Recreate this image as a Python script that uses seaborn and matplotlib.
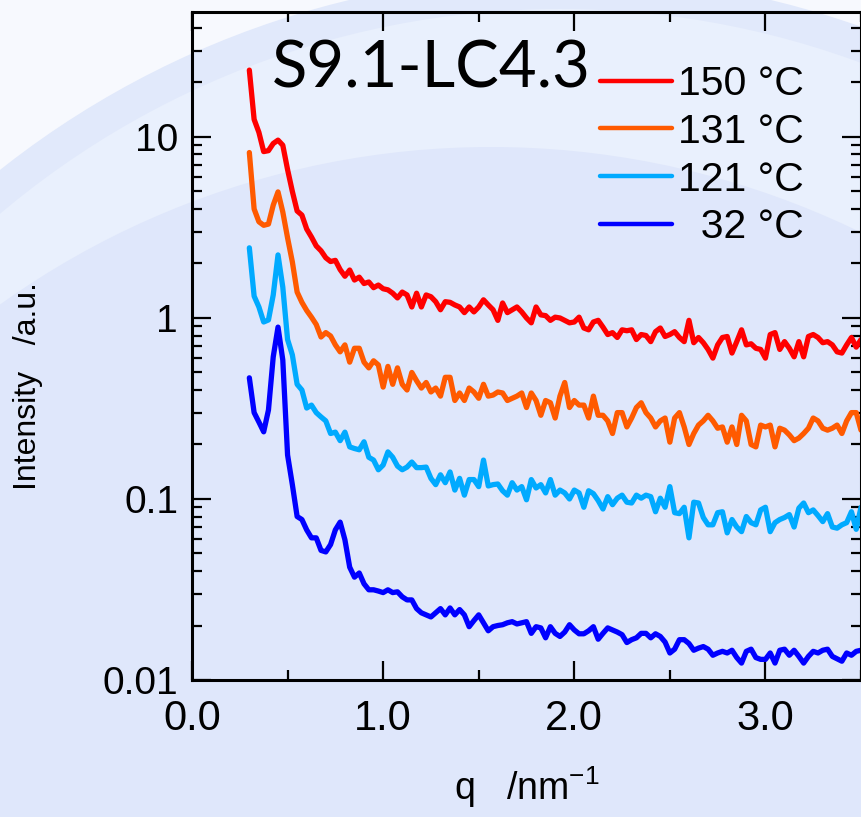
import numpy as np
import pandas as pd
import matplotlib
matplotlib.use("Agg")
import matplotlib.pyplot as plt
import seaborn as sns
from matplotlib.patches import Circle, Rectangle
from matplotlib.ticker import LogLocator, NullFormatter, FixedLocator, FixedFormatter
from matplotlib import font_manager as fm

# ---------------- data ----------------
q_nm = [
    0.300, 0.325, 0.350, 0.375, 0.400, 0.425, 0.450, 0.475, 0.500, 0.525,
    0.550, 0.575, 0.600, 0.625, 0.650, 0.675, 0.700, 0.725, 0.750, 0.775,
    0.800, 0.825, 0.850, 0.875, 0.900, 0.925, 0.950, 0.975, 1.000, 1.025,
    1.050, 1.075, 1.100, 1.125, 1.150, 1.175, 1.200, 1.225, 1.250, 1.275,
    1.300, 1.325, 1.350, 1.375, 1.400, 1.425, 1.450, 1.475, 1.500, 1.525,
    1.550, 1.575, 1.600, 1.625, 1.650, 1.675, 1.700, 1.725, 1.750, 1.775,
    1.800, 1.825, 1.850, 1.875, 1.900, 1.925, 1.950, 1.975, 2.000, 2.025,
    2.050, 2.075, 2.100, 2.125, 2.150, 2.175, 2.200, 2.225, 2.250, 2.275,
    2.300, 2.325, 2.350, 2.375, 2.400, 2.425, 2.450, 2.475, 2.500, 2.525,
    2.550, 2.575, 2.600, 2.625, 2.650, 2.675, 2.700, 2.725, 2.750, 2.775,
    2.800, 2.825, 2.850, 2.875, 2.900, 2.925, 2.950, 2.975, 3.000, 3.025,
    3.050, 3.075, 3.100, 3.125, 3.150, 3.175, 3.200, 3.225, 3.250, 3.275,
    3.300, 3.325, 3.350, 3.375, 3.400, 3.425, 3.450, 3.475, 3.500,
]

I_150C = [
    23.4, 12.5, 10.6, 8.3, 8.4, 9.2, 9.6, 9.0, 6.6, 5.0,
    3.9, 3.7, 3.1, 2.8, 2.5, 2.35, 2.15, 2.05, 2.08, 1.85,
    1.70, 1.84, 1.62, 1.68, 1.55, 1.58, 1.47, 1.52, 1.45, 1.43,
    1.37, 1.29, 1.39, 1.34, 1.15, 1.37, 1.15, 1.34, 1.31, 1.23,
    1.11, 1.23, 1.22, 1.18, 1.15, 1.07, 1.15, 1.08, 1.15, 1.26,
    1.18, 1.11, 0.97, 1.21, 1.07, 1.11, 1.15, 1.08, 1.00, 0.94,
    1.15, 1.04, 1.03, 0.97, 1.01, 1.00, 0.97, 0.94, 0.95, 1.01,
    0.88, 0.86, 0.95, 0.97, 0.89, 0.81, 0.83, 0.78, 0.86, 0.85,
    0.86, 0.76, 0.81, 0.80, 0.74, 0.84, 0.88, 0.79, 0.81, 0.84,
    0.78, 0.74, 0.97, 0.73, 0.78, 0.73, 0.67, 0.60, 0.71, 0.78,
    0.79, 0.64, 0.74, 0.86, 0.71, 0.72, 0.68, 0.67, 0.60, 0.81,
    0.83, 0.67, 0.74, 0.68, 0.61, 0.74, 0.61, 0.79, 0.81, 0.78,
    0.73, 0.74, 0.71, 0.65, 0.64, 0.71, 0.78, 0.69, 0.76,
]

I_131C = [
    8.2, 4.0, 3.4, 3.25, 3.3, 4.2, 4.97, 3.85, 2.77, 2.04,
    1.39, 1.22, 1.10, 1.01, 0.92, 0.785, 0.83, 0.795, 0.71, 0.65,
    0.71, 0.57, 0.68, 0.68, 0.57, 0.53, 0.58, 0.55, 0.415, 0.54,
    0.43, 0.53, 0.43, 0.40, 0.50, 0.45, 0.41, 0.44, 0.39, 0.41,
    0.37, 0.47, 0.47, 0.35, 0.385, 0.35, 0.41, 0.39, 0.36, 0.43,
    0.37, 0.375, 0.39, 0.385, 0.35, 0.36, 0.37, 0.385, 0.32, 0.385,
    0.35, 0.29, 0.35, 0.34, 0.28, 0.37, 0.44, 0.32, 0.35, 0.33,
    0.33, 0.28, 0.37, 0.29, 0.29, 0.27, 0.23, 0.30, 0.30, 0.25,
    0.28, 0.32, 0.34, 0.30, 0.28, 0.25, 0.27, 0.28, 0.206, 0.28,
    0.30, 0.25, 0.20, 0.23, 0.256, 0.27, 0.29, 0.27, 0.246, 0.25,
    0.206, 0.25, 0.20, 0.29, 0.27, 0.20, 0.194, 0.256, 0.25, 0.256,
    0.194, 0.246, 0.24, 0.226, 0.21, 0.217, 0.23, 0.246, 0.28, 0.27,
    0.246, 0.24, 0.246, 0.256, 0.23, 0.27, 0.30, 0.30, 0.24,
]

I_121C = [
    2.44, 1.32, 1.15, 0.95, 0.975, 1.34, 2.23, 1.48, 0.76, 0.625,
    0.43, 0.40, 0.318, 0.33, 0.30, 0.284, 0.27, 0.23, 0.234, 0.21,
    0.234, 0.194, 0.19, 0.187, 0.207, 0.17, 0.164, 0.145, 0.154, 0.182,
    0.17, 0.152, 0.145, 0.15, 0.16, 0.149, 0.149, 0.15, 0.13, 0.12,
    0.136, 0.123, 0.141, 0.112, 0.13, 0.105, 0.128, 0.128, 0.117, 0.164,
    0.118, 0.12, 0.121, 0.111, 0.105, 0.123, 0.112, 0.117, 0.099, 0.128,
    0.115, 0.12, 0.108, 0.128, 0.105, 0.112, 0.108, 0.100, 0.112, 0.108,
    0.090, 0.111, 0.107, 0.098, 0.088, 0.103, 0.093, 0.101, 0.105, 0.096,
    0.095, 0.105, 0.101, 0.105, 0.103, 0.085, 0.101, 0.090, 0.117, 0.084,
    0.083, 0.090, 0.061, 0.096, 0.095, 0.079, 0.072, 0.072, 0.084, 0.085,
    0.065, 0.077, 0.070, 0.066, 0.080, 0.074, 0.072, 0.087, 0.090, 0.066,
    0.074, 0.077, 0.079, 0.082, 0.070, 0.089, 0.095, 0.084, 0.087, 0.081,
    0.075, 0.083, 0.070, 0.069, 0.072, 0.074, 0.085, 0.068, 0.090,
]

I_32C = [
    0.467, 0.30, 0.266, 0.235, 0.31, 0.61, 0.89, 0.586, 0.175, 0.12,
    0.080, 0.077, 0.0675, 0.061, 0.061, 0.052, 0.051, 0.056, 0.0675, 0.0745,
    0.0595, 0.042, 0.037, 0.039, 0.034, 0.0315, 0.0315, 0.031, 0.0304, 0.0315,
    0.0304, 0.0307, 0.0288, 0.0277, 0.0277, 0.0248, 0.0235, 0.0229, 0.0223, 0.0235,
    0.0248, 0.0229, 0.0250, 0.0229, 0.0245, 0.0229, 0.0197, 0.0213, 0.0229, 0.0207,
    0.0187, 0.0197, 0.0200, 0.0202, 0.0207, 0.0210, 0.0204, 0.0207, 0.0210, 0.0181,
    0.0197, 0.0194, 0.0171, 0.0197, 0.0181, 0.0174, 0.0184, 0.0202, 0.0189, 0.0180,
    0.0180, 0.0187, 0.0197, 0.0168, 0.0181, 0.0194, 0.0189, 0.0184, 0.0178, 0.0161,
    0.0167, 0.0171, 0.0181, 0.0181, 0.0171, 0.0180, 0.0174, 0.0162, 0.0141, 0.0148,
    0.0167, 0.0167, 0.0159, 0.0146, 0.0150, 0.0153, 0.0148, 0.0137, 0.0141, 0.0144,
    0.0141, 0.0146, 0.0133, 0.0124, 0.0144, 0.0148, 0.0133, 0.0130, 0.0130, 0.0141,
    0.0124, 0.0146, 0.0148, 0.0137, 0.0146, 0.0135, 0.0124, 0.0135, 0.0144, 0.0141,
    0.0146, 0.0148, 0.0135, 0.0131, 0.0127, 0.0141, 0.0137, 0.0144, 0.0146,
]

series_labels = ["150 °C", "131 °C", "121 °C", "  32 °C"]
series_colors = ["#ff0000", "#ff5a00", "#00aaff", "#0000ff"]
x_ticks = [0.0, 1.0, 2.0, 3.0]
x_ticklabels = ["0.0", "1.0", "2.0", "3.0"]
y_ticks = [0.01, 0.1, 1, 10]
y_ticklabels = ["0.01", "0.1", "1", "10"]
sample_title = "S9.1-LC4.3"

df = pd.concat([
    pd.DataFrame({"q": q_nm, "I": vals, "T": lab})
    for vals, lab in zip([I_150C, I_131C, I_121C, I_32C], series_labels)
], ignore_index=True)

# ---------------- style ----------------
sns.set_theme(style="ticks")
plt.rcParams["font.family"] = ["Liberation Sans", "DejaVu Sans"]
plt.rcParams["mathtext.fontset"] = "custom"
plt.rcParams["mathtext.rm"] = "Liberation Sans"
for k in ["text.color", "axes.labelcolor", "xtick.color", "ytick.color"]:
    plt.rcParams[k] = "black"

# use a condensed face for the y label if one is installed
names = {f.name for f in fm.fontManager.ttflist}
condensed = [n for n in ["Liberation Sans Narrow", "DejaVu Sans Condensed"] if n in names]
if condensed:
    YLAB = dict(family=[condensed[0], "Liberation Sans"], fontsize=27)
else:
    YLAB = dict(family=["Liberation Sans"], fontsize=23)

W, H = 862, 817
fig = plt.figure(figsize=(W / 100, H / 100), dpi=100)

# background decoration (pixel coordinates, y down)
bg = fig.add_axes([0, 0, 1, 1], zorder=0)
bg.set_xlim(0, W)
bg.set_ylim(H, 0)
bg.axis("off")
bg.add_patch(Rectangle((0, 0), W, H, color="#f7f9fe", lw=0))
bg.add_patch(Circle((560, 877), 902, color="#e1e9fb", lw=0))
bg.add_patch(Circle((560, 877), 868, color="#e9f0fd", lw=0))
bg.add_patch(Circle((491, 991), 844, color="#dfe7fb", lw=0))

# main axes
L, R, T, B = 192, 861, 12, 680
ax = fig.add_axes([L / W, 1 - B / H, (R - L) / W, (B - T) / H], zorder=1)
ax.patch.set_alpha(0)

sns.lineplot(data=df, x="q", y="I", hue="T", hue_order=series_labels,
             palette=series_colors, estimator=None, sort=False,
             linewidth=3.8, ax=ax, legend=False)

ax.set_yscale("log")
ax.set_xlim(0, 3.5)
ax.set_ylim(0.01, 49)

ax.xaxis.set_major_locator(FixedLocator(x_ticks))
ax.xaxis.set_major_formatter(FixedFormatter(x_ticklabels))
ax.xaxis.set_minor_locator(FixedLocator([0.5, 1.5, 2.5, 3.5]))
ax.yaxis.set_major_locator(FixedLocator(y_ticks))
ax.yaxis.set_major_formatter(FixedFormatter(y_ticklabels))
ax.yaxis.set_minor_locator(LogLocator(base=10, subs=np.arange(2, 10)))
ax.yaxis.set_minor_formatter(NullFormatter())

for s in ax.spines.values():
    s.set_linewidth(2.2)
    s.set_color("black")
ax.tick_params(which="both", direction="in", top=True, right=True, color="black", width=1.6)
ax.tick_params(which="major", length=14)
ax.tick_params(which="minor", length=7.5)
ax.tick_params(axis="y", which="major", labelsize=28, pad=10)
ax.tick_params(axis="x", which="major", labelsize=30, pad=14)

ax.set_xlabel(r"q   /nm$^{\mathregular{-1}}$", fontsize=27, labelpad=18)
ax.set_ylabel("Intensity   /a.u.", **YLAB)
ax.yaxis.set_label_coords(-0.222, 0.44)
ax.grid(False)

fig.text(272 / W, 1 - 87 / H, sample_title, family=["Lato", "DejaVu Sans"],
         fontsize=47, ha="left", va="baseline", color="black")

handles = [plt.Line2D([], [], color=c, lw=3.2) for c in series_colors]
leg = ax.legend(handles, series_labels, loc="upper left",
                bbox_to_anchor=(600 / W, 1 - 65 / H), bbox_transform=fig.transFigure,
                frameon=False, fontsize=29.5, handlelength=1.76, handletextpad=0.15,
                labelspacing=0.24, borderpad=0, borderaxespad=0)

fig.savefig("out.png", dpi=100)
